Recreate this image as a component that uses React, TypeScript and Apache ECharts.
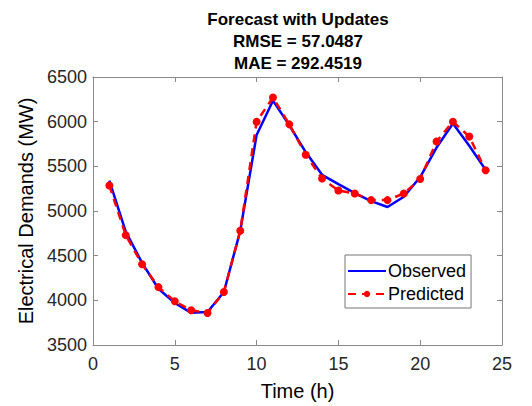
import React, { useEffect, useRef } from "react";
import * as echarts from "echarts";

const hours = [1, 2, 3, 4, 5, 6, 7, 8, 9, 10, 11, 12, 13, 14, 15, 16, 17, 18, 19, 20, 21, 22, 23, 24];
const observed = [5340, 4770, 4420, 4130, 3970, 3860, 3870, 4093, 4778, 5850, 6235, 5960, 5660, 5405, 5300, 5200, 5110, 5045, 5160, 5380, 5710, 5980, 5730, 5460];
const predicted = [5285, 4730, 4404, 4148, 3989, 3889, 3859, 4093, 4778, 6000, 6270, 5970, 5630, 5363, 5230, 5196, 5122, 5122, 5196, 5359, 5778, 6000, 5833, 5456];
const xTicks = [0, 25, 5];
const yTicks = [3500, 6500, 500];
const titleLines = ["Forecast with Updates", "RMSE = 57.0487", "MAE = 292.4519"];

const FONT = "Liberation Sans, Arial, sans-serif";
const AXIS = "#8a8a8a";
const TXT = "#262626";

export default function App() {
  const ref = useRef<HTMLDivElement>(null);
  useEffect(() => {
    if (!ref.current) return;
    const chart = echarts.init(ref.current, undefined, { renderer: "svg" });
    const tick = { show: true, inside: true, length: 5, lineStyle: { color: AXIS, width: 1 } };
    const line = { show: true, onZero: false, lineStyle: { color: AXIS, width: 1 } };
    chart.setOption({
      animation: false,
      backgroundColor: "#ffffff",
      textStyle: { fontFamily: FONT },
      title: {
        text: titleLines.join("\n"),
        left: 298,
        textAlign: "center",
        top: 8,
        padding: 0,
        textStyle: { fontFamily: FONT, fontWeight: "bold", fontSize: 17, lineHeight: 22, color: "#000" },
      },
      grid: { left: 93, right: 30, top: 77, bottom: 59 },
      legend: {
        orient: "vertical",
        left: 345,
        top: 255,
        itemWidth: 38,
        itemHeight: 8,
        itemGap: 3,
        padding: [6, 5, 4, 2],
        borderColor: "#777",
        borderWidth: 1,
        borderRadius: 0,
        backgroundColor: "#fff",
        textStyle: { fontFamily: FONT, fontSize: 18, lineHeight: 20, color: "#000", padding: [0, 0, 0, -3] },
        data: [
          { name: "Observed", itemStyle: { color: "rgba(0,0,0,0)", borderWidth: 0 } },
          { name: "Predicted" },
        ],
      },
      xAxis: [
        {
          type: "value", min: xTicks[0], max: xTicks[1], interval: xTicks[2],
          name: "Time (h)", nameLocation: "middle", nameGap: 36,
          nameTextStyle: { fontFamily: FONT, fontSize: 20, color: "#000" },
          axisLine: line, axisTick: tick, splitLine: { show: false },
          axisLabel: { fontFamily: FONT, fontSize: 18, color: TXT, margin: 10 },
        },
        {
          type: "value", position: "top", min: xTicks[0], max: xTicks[1], interval: xTicks[2],
          axisLine: line, axisTick: tick, splitLine: { show: false }, axisLabel: { show: false },
        },
      ],
      yAxis: [
        {
          type: "value", min: yTicks[0], max: yTicks[1], interval: yTicks[2],
          name: "Electrical Demands (MW)", nameLocation: "middle", nameGap: 48,
          nameTextStyle: { fontFamily: FONT, fontSize: 20, color: "#000" },
          axisLine: line, axisTick: tick, splitLine: { show: false },
          axisLabel: { fontFamily: FONT, fontSize: 18, color: TXT, margin: 6, formatter: (v: number) => String(v) },
        },
        {
          type: "value", position: "right", min: yTicks[0], max: yTicks[1], interval: yTicks[2],
          axisLine: line, axisTick: tick, splitLine: { show: false }, axisLabel: { show: false },
        },
      ],
      series: [
        {
          name: "Observed", type: "line",
          data: hours.map((h, i) => [h, observed[i]]),
          showSymbol: false, symbol: "circle", symbolSize: 0,
          lineStyle: { color: "#0000ff", width: 2.5 },
          itemStyle: { color: "#0000ff" },
          z: 2,
        },
        {
          name: "Predicted", type: "line",
          data: hours.map((h, i) => [h, predicted[i]]),
          symbol: "circle", symbolSize: 8,
          lineStyle: { color: "#ff0000", width: 2.5, type: [8, 6] },
          itemStyle: { color: "#ff0000" },
          z: 3,
        },
      ],
    });
    return () => chart.dispose();
  }, []);
  return <div ref={ref} style={{ width: 532, height: 406, position: "absolute", left: 0, top: 0 }} />;
}
